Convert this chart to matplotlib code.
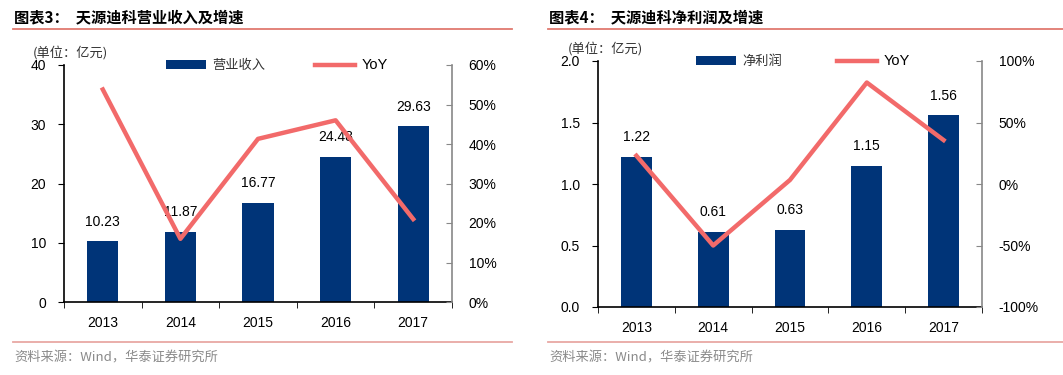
import matplotlib
matplotlib.use("Agg")
import matplotlib.pyplot as plt
from matplotlib.ticker import FuncFormatter, FixedLocator

plt.rcParams["font.family"] = ["Liberation Sans", "Noto Sans CJK SC", "DejaVu Sans"]

years = ["2013", "2014", "2015", "2016", "2017"]

revenue = [10.23, 11.87, 16.77, 24.48, 29.63]
revenue_yoy = [53.8, 16.0, 41.3, 46.0, 21.0]

profit = [1.22, 0.61, 0.63, 1.15, 1.56]
profit_yoy = [23.0, -50.0, 3.3, 82.5, 35.7]

BAR = "#003478"
LINE = "#F26A6A"
RULE = "#E07A70"
CJK = ["Noto Sans CJK SC", "DejaVu Sans"]

fig = plt.figure(figsize=(10.63, 3.75), dpi=100)


def fmt_axis(v, ticks):
    if all(float(t).is_integer() for t in ticks):
        return f"{v:.0f}"
    return f"{v:.1f}"


def panel(rect, vals, yoy, ylim, yticks, y2lim, y2ticks, name, title, x0, x1,
          leg_x, colsp):
    ax = fig.add_axes(rect)
    x = list(range(len(years)))
    bars = ax.bar(x, vals, width=0.4, color=BAR, label=name, zorder=2)
    for xi, v in zip(x, vals):
        ax.annotate(f"{v:.2f}", (xi, v), xytext=(0, 9), textcoords="offset points",
                    ha="center", va="bottom", fontsize=10, zorder=5)
    ax.set_xlim(-0.5, len(years) - 0.5)
    ax.set_ylim(*ylim)
    ax.set_yticks(yticks)
    ax.yaxis.set_major_formatter(FuncFormatter(lambda v, p: fmt_axis(v, yticks)))
    ax.set_xticks(x)
    ax.set_xticklabels(years)
    ax.xaxis.set_minor_locator(FixedLocator([i - 0.5 for i in range(len(years) + 1)]))
    ax.tick_params(axis="x", which="major", length=0, pad=10, labelsize=10)
    ax.tick_params(axis="x", which="minor", length=4, direction="out")
    ax.tick_params(axis="y", length=4, direction="out", labelsize=10, pad=9)
    for s in ["top", "right"]:
        ax.spines[s].set_visible(False)
    ax.spines["left"].set_linewidth(1.2)
    ax.spines["bottom"].set_linewidth(1.2)

    ax2 = ax.twinx()
    line, = ax2.plot(x, yoy, color=LINE, lw=3.2, label="YoY", zorder=3)
    ax2.set_ylim(*y2lim)
    ax2.set_yticks(y2ticks)
    ax2.yaxis.set_major_formatter(FuncFormatter(lambda v, p: f"{v:.0f}%"))
    ax2.tick_params(axis="y", length=4, direction="in", labelsize=10, pad=12,
                    color="#888888")
    for s in ["top", "left", "bottom"]:
        ax2.spines[s].set_visible(False)
    ax2.spines["right"].set_color("#888888")
    ax2.spines["right"].set_linewidth(1.2)

    leg = ax.legend([bars, line], [name, "YoY"], loc="center left",
                    bbox_to_anchor=(leg_x, 1.0), ncol=2, frameon=False,
                    borderpad=0, borderaxespad=0,
                    handlelength=3.0, handleheight=0.6, columnspacing=colsp,
                    handletextpad=0.5, prop={"family": CJK, "size": 9.5})
    leg.get_texts()[0].set_color("#333333")
    leg.get_texts()[1].set_fontfamily(["Liberation Sans", "DejaVu Sans"])
    leg.get_texts()[1].set_fontsize(10.5)
    leg.set_zorder(10)

    ax.annotate("(单位：亿元)", (-0.08, 1.0), xycoords="axes fraction",
                xytext=(0, 9), textcoords="offset points", fontsize=9.5,
                family=CJK, color="#333333", ha="left", va="center")

    fig.text(x0 + 1 / 1063, 1 - 17 / 375, title, fontsize=11, fontweight="bold",
             family=CJK, ha="left", va="center")
    fig.add_artist(plt.Line2D([x0, x1], [1 - 29 / 375] * 2, color=RULE, lw=1.3))
    fig.add_artist(plt.Line2D([x0, x1], [1 - 342 / 375] * 2, color="#E8A8A4", lw=1.3))
    fig.text(x0 + 1 / 1063, 1 - 358 / 375, "资料来源：Wind，华泰证券研究所", fontsize=9.5,
             family=CJK, color="#8a8a8a", ha="left", va="center")
    return ax


panel([64 / 1063, 73 / 375, 388 / 1063, 237 / 375], revenue, revenue_yoy,
      (0, 40), [0, 10, 20, 30, 40],
      (0, 60), [0, 10, 20, 30, 40, 50, 60], "营业收入",
      "图表3：  天源迪科营业收入及增速", 13 / 1063, 512 / 1063, 0.263, 3.8)

panel([598 / 1063, 68 / 375, 384 / 1063, 246 / 375], profit, profit_yoy,
      (0, 2.0), [0, 0.5, 1.0, 1.5, 2.0],
      (-100, 100), [-100, -50, 0, 50, 100], "净利润",
      "图表4：  天源迪科净利润及增速", 548 / 1063, 1063 / 1063, 0.255, 4.2)

fig.savefig("out.png", dpi=100)
